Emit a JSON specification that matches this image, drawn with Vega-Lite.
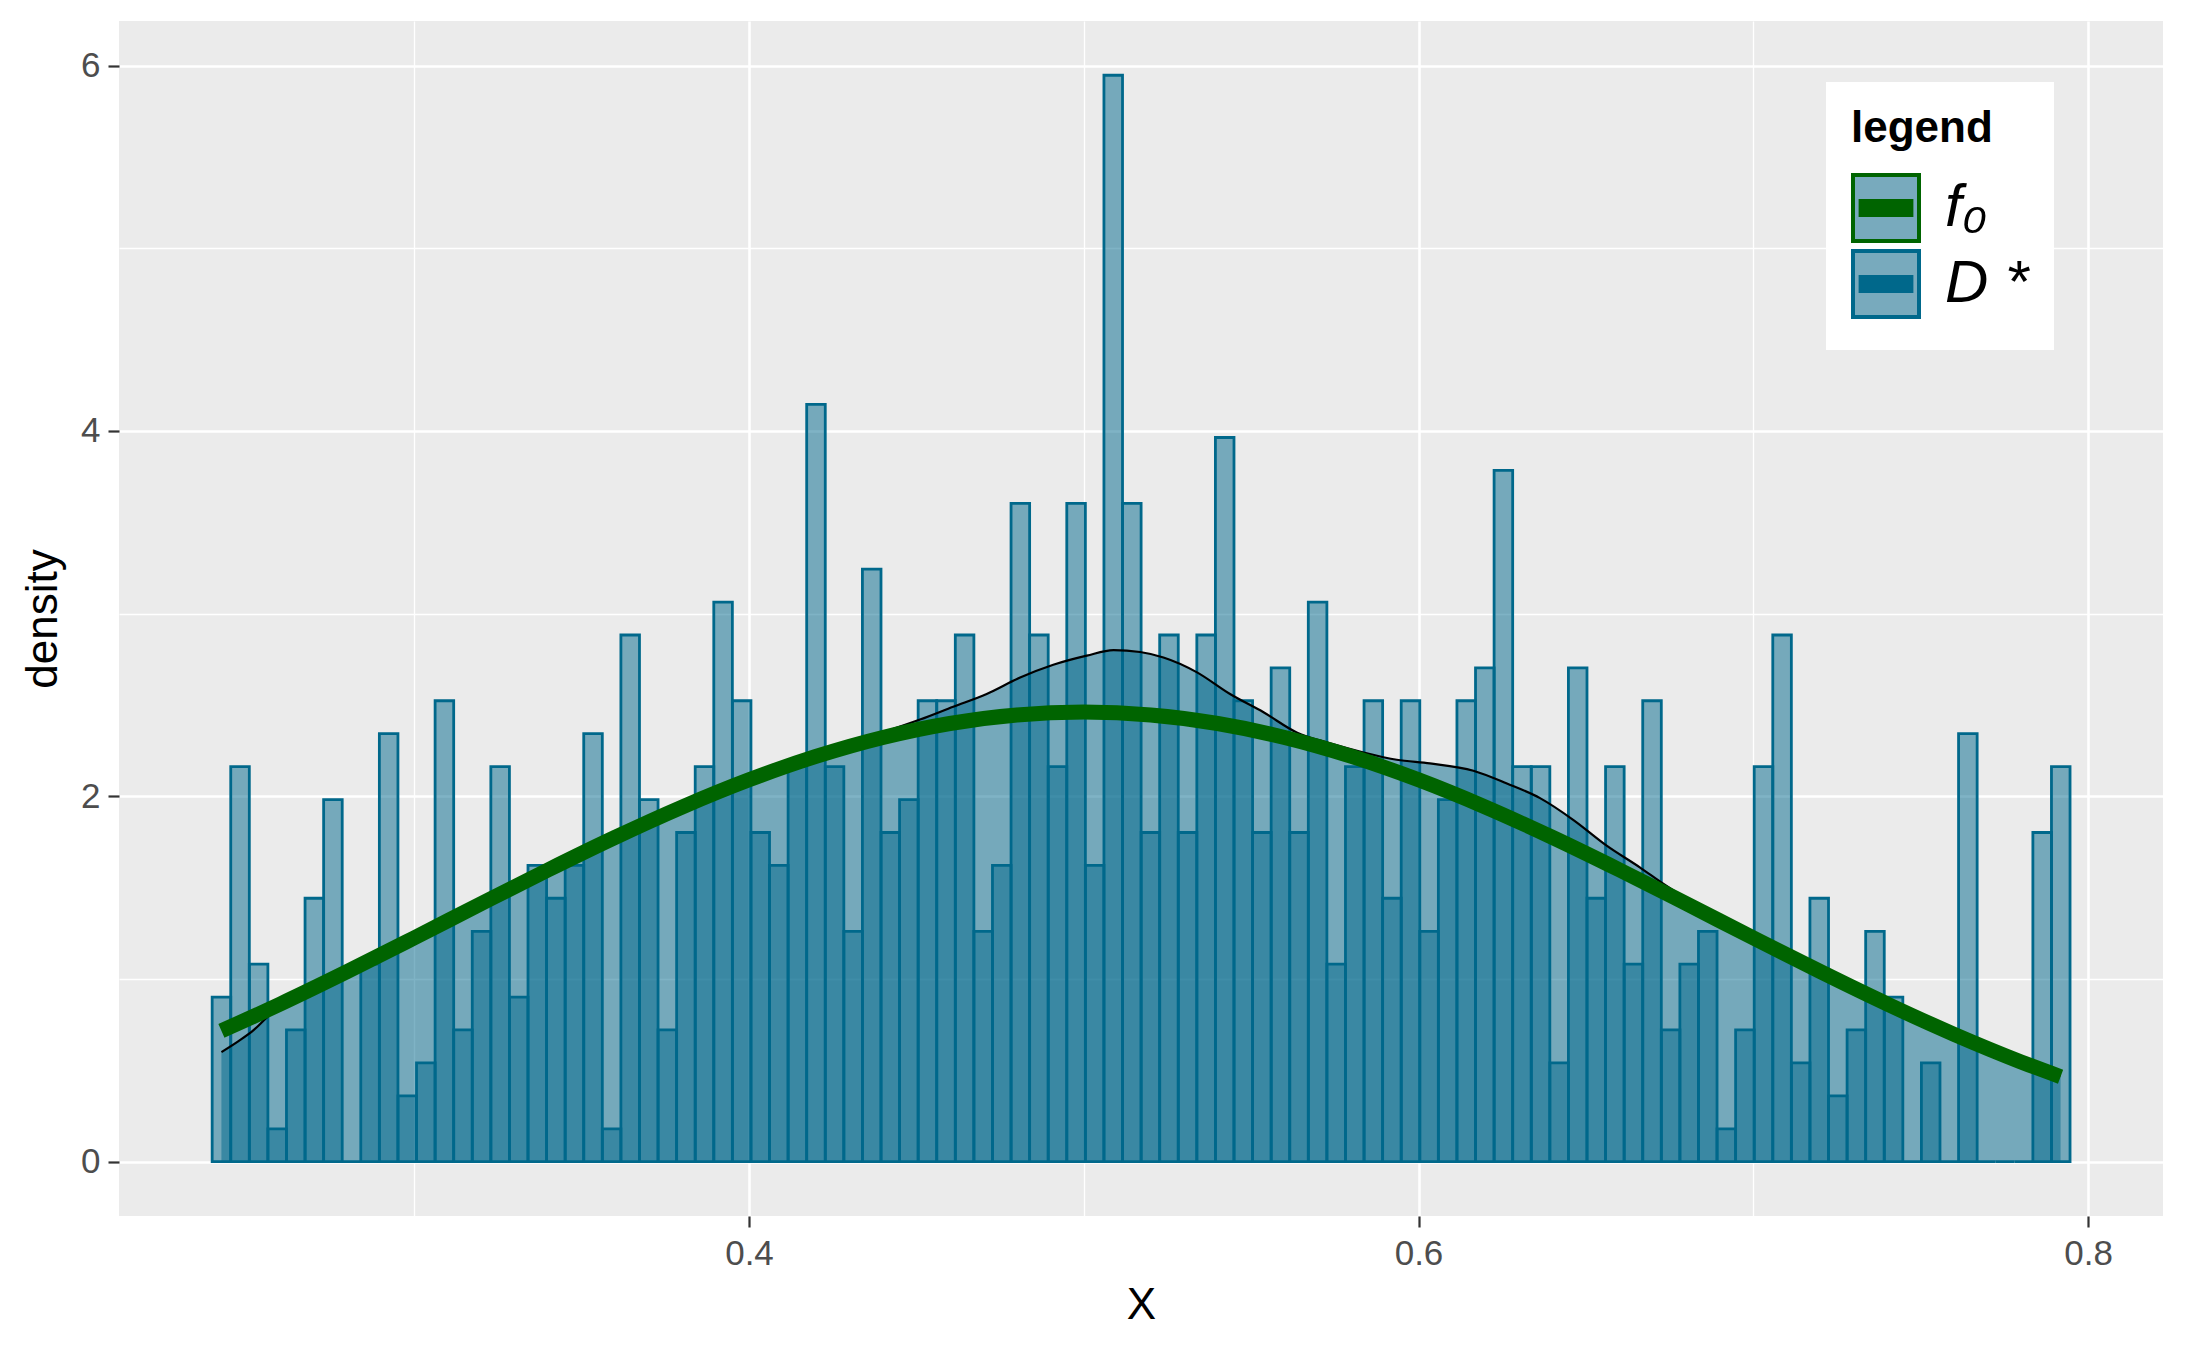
{
 "$schema": "https://vega.github.io/schema/vega-lite/v6.json",
 "width": 2044,
 "height": 1195,
 "autosize": {"type": "none"},
 "padding": {"left": 119, "top": 21, "right": 24, "bottom": 134},
 "background": "white",
 "config": {"font": "Liberation Sans", "view": {"fill": "#EBEBEB", "stroke": null}},
 "datasets": {
  "bars": [
   {"x0":0.23963,"x1":0.24518,"d":0.901},{"x0":0.24518,"x1":0.25073,"d":2.162},{"x0":0.25073,"x1":0.25628,"d":1.081},{"x0":0.25628,"x1":0.26183,"d":0.180},{"x0":0.26183,"x1":0.26738,"d":0.721},
   {"x0":0.26738,"x1":0.27293,"d":1.442},{"x0":0.27293,"x1":0.27848,"d":1.982},{"x0":0.27848,"x1":0.28403,"d":0},{"x0":0.28403,"x1":0.28958,"d":1.081},{"x0":0.28958,"x1":0.29513,"d":2.343},
   {"x0":0.29513,"x1":0.30068,"d":0.360},{"x0":0.30068,"x1":0.30623,"d":0.541},{"x0":0.30623,"x1":0.31178,"d":2.523},{"x0":0.31178,"x1":0.31733,"d":0.721},{"x0":0.31733,"x1":0.32288,"d":1.261},
   {"x0":0.32288,"x1":0.32843,"d":2.162},{"x0":0.32843,"x1":0.33398,"d":0.901},{"x0":0.33398,"x1":0.33953,"d":1.622},{"x0":0.33953,"x1":0.34508,"d":1.442},{"x0":0.34508,"x1":0.35063,"d":1.622},
   {"x0":0.35063,"x1":0.35618,"d":2.343},{"x0":0.35618,"x1":0.36173,"d":0.180},{"x0":0.36173,"x1":0.36728,"d":2.883},{"x0":0.36728,"x1":0.37283,"d":1.982},{"x0":0.37283,"x1":0.37838,"d":0.721},
   {"x0":0.37838,"x1":0.38393,"d":1.802},{"x0":0.38393,"x1":0.38948,"d":2.162},{"x0":0.38948,"x1":0.39503,"d":3.063},{"x0":0.39503,"x1":0.40058,"d":2.523},{"x0":0.40058,"x1":0.40613,"d":1.802},
   {"x0":0.40613,"x1":0.41168,"d":1.622},{"x0":0.41168,"x1":0.41723,"d":2.162},{"x0":0.41723,"x1":0.42278,"d":4.145},{"x0":0.42278,"x1":0.42833,"d":2.162},{"x0":0.42833,"x1":0.43388,"d":1.261},
   {"x0":0.43388,"x1":0.43943,"d":3.244},{"x0":0.43943,"x1":0.44498,"d":1.802},{"x0":0.44498,"x1":0.45053,"d":1.982},{"x0":0.45053,"x1":0.45608,"d":2.523},{"x0":0.45608,"x1":0.46163,"d":2.523},
   {"x0":0.46163,"x1":0.46718,"d":2.883},{"x0":0.46718,"x1":0.47273,"d":1.261},{"x0":0.47273,"x1":0.47828,"d":1.622},{"x0":0.47828,"x1":0.48383,"d":3.604},{"x0":0.48383,"x1":0.48938,"d":2.883},
   {"x0":0.48938,"x1":0.49493,"d":2.162},{"x0":0.49493,"x1":0.50048,"d":3.604},{"x0":0.50048,"x1":0.50603,"d":1.622},{"x0":0.50603,"x1":0.51158,"d":5.947},{"x0":0.51158,"x1":0.51713,"d":3.604},
   {"x0":0.51713,"x1":0.52268,"d":1.802},{"x0":0.52268,"x1":0.52823,"d":2.883},{"x0":0.52823,"x1":0.53378,"d":1.802},{"x0":0.53378,"x1":0.53933,"d":2.883},{"x0":0.53933,"x1":0.54488,"d":3.964},
   {"x0":0.54488,"x1":0.55043,"d":2.523},{"x0":0.55043,"x1":0.55598,"d":1.802},{"x0":0.55598,"x1":0.56153,"d":2.703},{"x0":0.56153,"x1":0.56708,"d":1.802},{"x0":0.56708,"x1":0.57263,"d":3.063},
   {"x0":0.57263,"x1":0.57818,"d":1.081},{"x0":0.57818,"x1":0.58373,"d":2.162},{"x0":0.58373,"x1":0.58928,"d":2.523},{"x0":0.58928,"x1":0.59483,"d":1.442},{"x0":0.59483,"x1":0.60038,"d":2.523},
   {"x0":0.60038,"x1":0.60593,"d":1.261},{"x0":0.60593,"x1":0.61148,"d":1.982},{"x0":0.61148,"x1":0.61703,"d":2.523},{"x0":0.61703,"x1":0.62258,"d":2.703},{"x0":0.62258,"x1":0.62813,"d":3.784},
   {"x0":0.62813,"x1":0.63368,"d":2.162},{"x0":0.63368,"x1":0.63923,"d":2.162},{"x0":0.63923,"x1":0.64478,"d":0.541},{"x0":0.64478,"x1":0.65033,"d":2.703},{"x0":0.65033,"x1":0.65588,"d":1.442},
   {"x0":0.65588,"x1":0.66143,"d":2.162},{"x0":0.66143,"x1":0.66698,"d":1.081},{"x0":0.66698,"x1":0.67253,"d":2.523},{"x0":0.67253,"x1":0.67808,"d":0.721},{"x0":0.67808,"x1":0.68363,"d":1.081},
   {"x0":0.68363,"x1":0.68918,"d":1.261},{"x0":0.68918,"x1":0.69473,"d":0.180},{"x0":0.69473,"x1":0.70028,"d":0.721},{"x0":0.70028,"x1":0.70583,"d":2.162},{"x0":0.70583,"x1":0.71138,"d":2.883},
   {"x0":0.71138,"x1":0.71693,"d":0.541},{"x0":0.71693,"x1":0.72248,"d":1.442},{"x0":0.72248,"x1":0.72803,"d":0.360},{"x0":0.72803,"x1":0.73358,"d":0.721},{"x0":0.73358,"x1":0.73913,"d":1.261},
   {"x0":0.73913,"x1":0.74468,"d":0.901},{"x0":0.74468,"x1":0.75023,"d":0},{"x0":0.75023,"x1":0.75578,"d":0.541},{"x0":0.75578,"x1":0.76133,"d":0},{"x0":0.76133,"x1":0.76688,"d":2.343},
   {"x0":0.76688,"x1":0.77243,"d":0},{"x0":0.77243,"x1":0.77798,"d":0},{"x0":0.77798,"x1":0.78353,"d":0},{"x0":0.78353,"x1":0.78908,"d":1.802},{"x0":0.78908,"x1":0.79463,"d":2.162}
  ],
  "dens": [
   {"x":0.2424,"y":0.60},{"x":0.2475,"y":0.66},{"x":0.2520,"y":0.72},{"x":0.2560,"y":0.79},{"x":0.2700,"y":0.95},
   {"x":0.2900,"y":1.14},{"x":0.3100,"y":1.32},{"x":0.3300,"y":1.51},{"x":0.3500,"y":1.69},{"x":0.3700,"y":1.87},
   {"x":0.3900,"y":2.03},{"x":0.4000,"y":2.11},{"x":0.4100,"y":2.18},{"x":0.4212,"y":2.245},{"x":0.4300,"y":2.29},
   {"x":0.4400,"y":2.35},{"x":0.4511,"y":2.42},{"x":0.4610,"y":2.49},{"x":0.4710,"y":2.56},{"x":0.4810,"y":2.65},
   {"x":0.4909,"y":2.72},{"x":0.5009,"y":2.77},{"x":0.5089,"y":2.80},{"x":0.5168,"y":2.79},{"x":0.5238,"y":2.76},
   {"x":0.5337,"y":2.68},{"x":0.5437,"y":2.56},{"x":0.5537,"y":2.46},{"x":0.5636,"y":2.35},{"x":0.5736,"y":2.29},
   {"x":0.5836,"y":2.24},{"x":0.5935,"y":2.20},{"x":0.6034,"y":2.18},{"x":0.6164,"y":2.14},{"x":0.6264,"y":2.07},
   {"x":0.6363,"y":1.99},{"x":0.6463,"y":1.87},{"x":0.6562,"y":1.73},{"x":0.6662,"y":1.61},{"x":0.6732,"y":1.52},
   {"x":0.6900,"y":1.33},{"x":0.7100,"y":1.14},{"x":0.7300,"y":0.96},{"x":0.7500,"y":0.79},{"x":0.7700,"y":0.63},
   {"x":0.7918,"y":0.47}
  ],
  "f0": [
   {"x":0.2424,"y":0.7165,"series":"f0"},{"x":0.25,"y":0.7787,"series":"f0"},{"x":0.26,"y":0.8633,"series":"f0"},{"x":0.28,"y":1.0407,"series":"f0"},
   {"x":0.30,"y":1.2252,"series":"f0"},{"x":0.32,"y":1.4125,"series":"f0"},{"x":0.34,"y":1.5975,"series":"f0"},{"x":0.36,"y":1.7753,"series":"f0"},
   {"x":0.38,"y":1.9411,"series":"f0"},{"x":0.40,"y":2.0902,"series":"f0"},{"x":0.42,"y":2.2184,"series":"f0"},{"x":0.44,"y":2.3222,"series":"f0"},
   {"x":0.46,"y":2.3985,"series":"f0"},{"x":0.48,"y":2.4452,"series":"f0"},{"x":0.50,"y":2.4609,"series":"f0"},{"x":0.52,"y":2.4452,"series":"f0"},
   {"x":0.54,"y":2.3985,"series":"f0"},{"x":0.56,"y":2.3222,"series":"f0"},{"x":0.58,"y":2.2184,"series":"f0"},{"x":0.60,"y":2.0902,"series":"f0"},
   {"x":0.62,"y":1.9411,"series":"f0"},{"x":0.64,"y":1.7753,"series":"f0"},{"x":0.66,"y":1.5975,"series":"f0"},{"x":0.68,"y":1.4125,"series":"f0"},
   {"x":0.70,"y":1.2252,"series":"f0"},{"x":0.72,"y":1.0407,"series":"f0"},{"x":0.74,"y":0.8633,"series":"f0"},{"x":0.76,"y":0.6973,"series":"f0"},
   {"x":0.78,"y":0.5463,"series":"f0"},{"x":0.7918,"y":0.4653,"series":"f0"}
  ]
 },
 "resolve": {"axis": {"x": "independent", "y": "independent"}},
 "layer": [
  {
   "data": {"name": "bars"},
   "mark": {"type": "rect", "fill": "#00688B", "fillOpacity": 0.5, "stroke": "#00688B", "strokeWidth": 2.8},
   "encoding": {
    "x": {"field": "x0", "type": "quantitative",
     "scale": {"domain": [0.2118, 0.8224], "nice": false, "zero": false},
     "axis": {"values": [0.4, 0.6, 0.8], "format": ".1f", "grid": true, "gridColor": "white", "gridWidth": 2.6,
      "domain": false, "ticks": true, "tickColor": "#333333", "tickWidth": 2.2, "tickSize": 11,
      "labelColor": "#4D4D4D", "labelFontSize": 35, "labelPadding": 9, "labelFlush": false,
      "title": "X", "titleFontSize": 44, "titleFontWeight": "normal", "titleColor": "black", "titlePadding": 12}},
    "x2": {"field": "x1"},
    "y": {"field": "d", "type": "quantitative",
     "scale": {"domain": [-0.2973, 6.244], "nice": false, "zero": false},
     "axis": {"values": [0, 2, 4, 6], "format": "d", "grid": true, "gridColor": "white", "gridWidth": 2.6,
      "domain": false, "ticks": true, "tickColor": "#333333", "tickWidth": 2.2, "tickSize": 11,
      "labelColor": "#4D4D4D", "labelFontSize": 35, "labelPadding": 8, "labelFlush": false,
      "title": "density", "titleFontSize": 44, "titleFontWeight": "normal", "titleColor": "black", "titlePadding": 15}},
    "y2": {"datum": 0}
   }
  },
  {
   "data": {"name": "dens"},
   "mark": {"type": "area", "fill": "#00688B", "fillOpacity": 0.5, "interpolate": "monotone"},
   "encoding": {
    "x": {"field": "x", "type": "quantitative", "axis": null},
    "y": {"field": "y", "type": "quantitative", "axis": null},
    "y2": {"datum": 0}
   }
  },
  {
   "data": {"name": "dens"},
   "mark": {"type": "line", "color": "black", "strokeWidth": 2.2, "interpolate": "monotone"},
   "encoding": {
    "x": {"field": "x", "type": "quantitative", "axis": null},
    "y": {"field": "y", "type": "quantitative", "axis": null}
   }
  },
  {
   "data": {"name": "f0"},
   "mark": {"type": "line", "strokeWidth": 15, "strokeCap": "butt", "interpolate": "monotone"},
   "encoding": {
    "x": {"field": "x", "type": "quantitative",
     "axis": {"orient": "top", "values": [0.3, 0.5, 0.7], "grid": true, "gridColor": "white", "gridWidth": 1.3,
      "labels": false, "ticks": false, "domain": false, "title": null}},
    "y": {"field": "y", "type": "quantitative",
     "axis": {"orient": "right", "values": [1, 3, 5], "grid": true, "gridColor": "white", "gridWidth": 1.3,
      "labels": false, "ticks": false, "domain": false, "title": null}},
    "stroke": {"field": "series", "type": "nominal",
     "scale": {"domain": ["f0", "D*"], "range": ["#006400", "#00688B"]},
     "legend": {
      "title": "legend", "orient": "none", "legendX": 1707, "legendY": 61,
      "fillColor": "white", "padding": 25,
      "titleFontSize": 44, "titleFontWeight": "bold", "titleColor": "black", "titlePadding": 22,
      "symbolType": "M-1,-1H1V1H-1Z M-0.83,-0.21H0.83 M-0.83,-0.14H0.83 M-0.83,-0.07H0.83 M-0.83,0H0.83 M-0.83,0.07H0.83 M-0.83,0.14H0.83 M-0.83,0.21H0.83",
      "symbolSize": 4356, "symbolStrokeWidth": 4, "symbolFillColor": "#78AABD", "symbolOpacity": 1,
      "labelExpr": "datum.value == 'f0' ? 'f\u2080' : 'D *'",
      "labelFontSize": 60, "labelFontStyle": "italic", "labelColor": "black", "labelOffset": 24, "rowPadding": -12,
      "encode": {"symbols": {"update": {"fill": {"value": "#78AABD"}, "fillOpacity": {"value": 1}, "strokeWidth": {"value": 4}, "opacity": {"value": 1}}}}
     }}
   }
  }
 ]
}
